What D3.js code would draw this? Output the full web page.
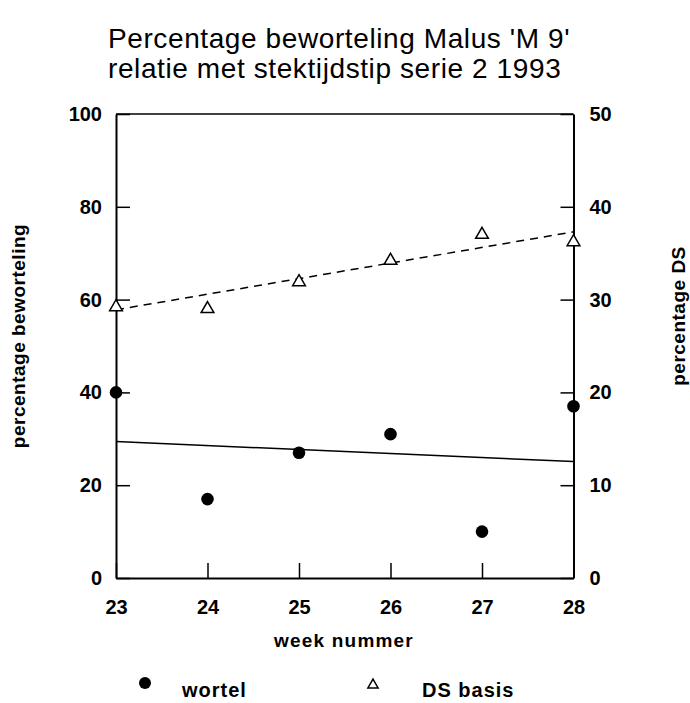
<!DOCTYPE html>
<html>
<head>
<meta charset="utf-8">
<script src="https://cdn.jsdelivr.net/npm/d3@7"></script>
<style>
  body { margin: 0; background: #fff; }
  svg { display: block; }
  text { font-family: "Liberation Sans", Arial, Helvetica, sans-serif; fill: #000; }
</style>
</head>
<body>
<svg id="chart" width="690" height="703"></svg>
<script>
// ---- data ----
const titleLines = ["Percentage beworteling Malus 'M 9'", "relatie met stektijdstip serie 2 1993"];
const weeks = [23, 24, 25, 26, 27, 28];
const wortel = [40, 17, 27, 31, 10, 37];            // left axis
const dsBasis = [29.2, 29.0, 31.9, 34.2, 37.0, 36.2]; // right axis
const wortelTrend = [[23, 29.4], [28, 25.1]];       // solid line, left axis
const dsTrend = [[23, 28.9], [28, 37.3]];           // dashed line, right axis
const leftTicks = [0, 20, 40, 60, 80, 100];
const rightTicks = [0, 10, 20, 30, 40, 50];
const xLabel = "week nummer";
const yLeftLabel = "percentage beworteling";
const yRightLabel = "percentage DS";
const legendLabels = ["wortel", "DS basis"];

// ---- layout ----
const svg = d3.select("#chart");
const L = 116, R = 573.5, T = 114, B = 578;
const x = d3.scaleLinear().domain([23, 28]).range([L, R]);
const yL = d3.scaleLinear().domain([0, 100]).range([B, T]);
const yR = d3.scaleLinear().domain([0, 50]).range([B, T]);

// title
svg.append("g").selectAll("text").data(titleLines).join("text")
  .attr("x", 108).attr("y", (d, i) => 48 + i * 30)
  .attr("font-size", 28).attr("letter-spacing", 0.6)
  .text(d => d);

// frame
svg.append("line").attr("x1", L).attr("x2", R).attr("y1", T).attr("y2", T)
  .attr("stroke", "#000").attr("stroke-width", 1.5);

// axes
const axLeft = d3.axisLeft(yL).tickValues(leftTicks).tickSizeInner(-14).tickSizeOuter(0).tickPadding(14);
const axRight = d3.axisRight(yR).tickValues(rightTicks).tickSizeInner(-13).tickSizeOuter(0).tickPadding(16);
const axBottom = d3.axisBottom(x).tickValues(weeks).tickSizeInner(-15).tickSizeOuter(0).tickPadding(22).tickFormat(d3.format("d"));

function styleAxis(g) {
  g.select(".domain").attr("stroke", "#000").attr("stroke-width", 2);
  g.selectAll(".tick line").attr("stroke", "#000").attr("stroke-width", 1.5);
  g.selectAll(".tick text").attr("font-size", 20).attr("font-weight", "bold")
    .attr("font-family", "\"Liberation Sans\", Arial, sans-serif").attr("fill", "#000");
}
svg.append("g").attr("transform", `translate(${L},0)`).call(axLeft).call(styleAxis);
svg.append("g").attr("transform", `translate(${R},0)`).call(axRight).call(styleAxis);
svg.append("g").attr("transform", `translate(0,${B})`).call(axBottom).call(styleAxis);

// axis titles
svg.append("text").attr("x", 344).attr("y", 647).attr("text-anchor", "middle")
  .attr("font-size", 19).attr("font-weight", "bold").attr("letter-spacing", 1.2).text(xLabel);
svg.append("text").attr("transform", "translate(25,336) rotate(-90)").attr("text-anchor", "middle")
  .attr("font-size", 19).attr("font-weight", "bold").attr("letter-spacing", 0.5).text(yLeftLabel);
svg.append("text").attr("transform", "translate(685,316) rotate(-90)").attr("text-anchor", "middle")
  .attr("font-size", 19).attr("font-weight", "bold").attr("letter-spacing", 0.5).text(yRightLabel);

// trend lines
const lineL = d3.line().x(d => x(d[0])).y(d => yL(d[1]));
const lineR = d3.line().x(d => x(d[0])).y(d => yR(d[1]));
svg.append("path").attr("d", lineL(wortelTrend)).attr("fill", "none")
  .attr("stroke", "#000").attr("stroke-width", 1.5);
svg.append("path").attr("d", lineR(dsTrend)).attr("fill", "none")
  .attr("stroke", "#000").attr("stroke-width", 1.5).attr("stroke-dasharray", "8,6");

// points
const tri = d3.symbol().type(d3.symbolTriangle).size(70);
svg.append("g").selectAll("circle").data(weeks).join("circle")
  .attr("cx", d => x(d)).attr("cy", (d, i) => yL(wortel[i])).attr("r", 6.3).attr("fill", "#000");
svg.append("g").selectAll("path").data(weeks).join("path")
  .attr("d", tri).attr("transform", (d, i) => `translate(${x(d)},${yR(dsBasis[i])})`)
  .attr("fill", "#fff").attr("stroke", "#000").attr("stroke-width", 1.5);

// legend
svg.append("circle").attr("cx", 145).attr("cy", 683).attr("r", 6).attr("fill", "#000");
svg.append("text").attr("x", 182).attr("y", 697).attr("font-size", 20).attr("font-weight", "bold")
  .attr("letter-spacing", 1).text(legendLabels[0]);
svg.append("path").attr("d", d3.symbol().type(d3.symbolTriangle).size(45))
  .attr("transform", "translate(373,685)").attr("fill", "#fff").attr("stroke", "#000").attr("stroke-width", 1.5);
svg.append("text").attr("x", 422).attr("y", 697).attr("font-size", 20).attr("font-weight", "bold")
  .attr("letter-spacing", 1).text(legendLabels[1]);
</script>
</body>
</html>
